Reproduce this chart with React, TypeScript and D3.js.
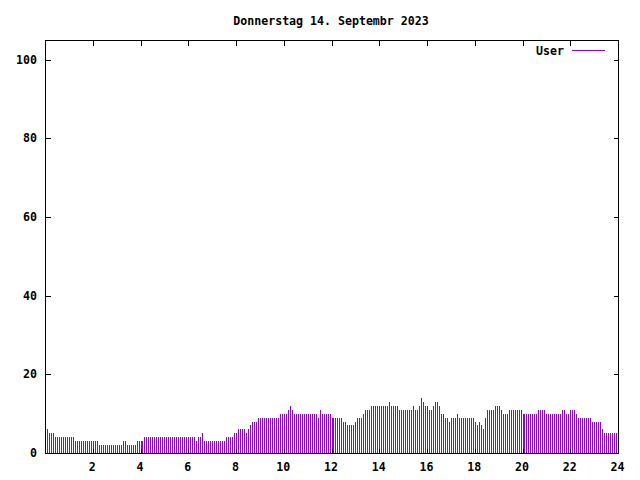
import React from "react";
import * as d3 from "d3";

// 5-minute samples, one array per 4-hour block (48 samples each)
const h00: number[] = [6, 6, 5, 5, 5, 4, 4, 4, 4, 4, 4, 4, 4, 4, 4, 3, 3, 3, 3, 3, 3, 3, 3, 3, 3, 3, 3, 2, 2, 2, 2, 2, 2, 2, 2, 2, 2, 2, 2, 3, 3, 2, 2, 2, 2, 2, 3, 3];
const h04: number[] = [3, 3, 4, 4, 4, 4, 4, 4, 4, 4, 4, 4, 4, 4, 4, 4, 4, 4, 4, 4, 4, 4, 4, 4, 4, 4, 4, 4, 3, 4, 4, 5, 3, 3, 3, 3, 3, 3, 3, 3, 3, 3, 3, 4, 4, 4, 4, 5];
const h08: number[] = [5, 6, 6, 6, 6, 5, 6, 7, 8, 8, 8, 9, 9, 9, 9, 9, 9, 9, 9, 9, 9, 9, 10, 10, 10, 10, 11, 12, 11, 10, 10, 10, 10, 10, 10, 10, 10, 10, 10, 10, 10, 9, 11, 10, 10, 10, 10, 10];
const h12: number[] = [9, 9, 9, 9, 9, 9, 8, 8, 7, 7, 7, 7, 8, 9, 9, 9, 10, 11, 11, 11, 12, 12, 12, 12, 12, 12, 12, 12, 12, 13, 12, 12, 12, 12, 11, 11, 11, 11, 11, 11, 11, 12, 11, 11, 12, 14, 13, 12];
const h16: number[] = [12, 11, 11, 12, 13, 13, 12, 10, 10, 9, 9, 8, 9, 9, 9, 10, 9, 9, 9, 9, 9, 9, 9, 9, 8, 7, 8, 7, 6, 9, 11, 11, 11, 11, 12, 12, 12, 11, 10, 10, 10, 11, 11, 11, 11, 11, 11, 11];
const h20: number[] = [10, 10, 10, 10, 10, 10, 10, 10, 11, 11, 11, 11, 10, 10, 10, 10, 10, 10, 10, 10, 11, 11, 10, 10, 11, 11, 11, 10, 9, 9, 9, 9, 9, 9, 9, 8, 8, 8, 8, 8, 6, 5, 5, 5, 5, 5, 5, 5];

const userValues: number[] = [...h00, ...h04, ...h08, ...h12, ...h16, ...h20];
const sampleMinutes = 5;

const xTicks: number[] = [2, 4, 6, 8, 10, 12, 14, 16, 18, 20, 22, 24];
const yTicks: number[] = [0, 20, 40, 60, 80, 100];

const title = "Donnerstag 14. Septembr 2023";
const seriesName = "User";
const seriesColor = "#9400d3";

const W = 640;
const H = 480;
const L = 45.5;
const R = 618.5;
const T = 40.5;
const B = 453.5;
const font = "'DejaVu Sans Mono', 'Liberation Mono', monospace";

export default function App() {
  const x = d3.scaleLinear().domain([0, 24]).range([L, R]);
  const y = d3.scaleLinear().domain([0, 105]).range([B - 0.5, T - 0.5]);
  const data = userValues.map((v, i) => ({ t: (i * sampleMinutes) / 60, v }));
  const tick = 5;
  return (
    <svg
      width={W}
      height={H}
      style={{ position: "absolute", left: 0, top: 0, background: "#fff" }}
      fontFamily={font}
      fontSize={11.6}
      fontWeight="bold"
    >
      <rect x={0} y={0} width={W} height={H} fill="#fff" />
      <g shapeRendering="crispEdges">
        {data.map((d, i) => {
          const px = Math.floor(x(d.t) + 1e-6);
          const top = Math.round(y(d.v));
          return (
            <rect key={i} x={px} y={top} width={1} height={B - 0.5 - top} fill={seriesColor} />
          );
        })}
      </g>
      <g stroke="#000" strokeWidth={1} shapeRendering="crispEdges" fill="none">
        <rect x={L} y={T} width={R - L} height={B - T} />
        {yTicks.map((v) => {
          const yy = Math.round(y(v)) + 0.5;
          return (
            <g key={v}>
              <line x1={L} x2={L + tick} y1={yy} y2={yy} />
              <line x1={R - tick} x2={R} y1={yy} y2={yy} />
            </g>
          );
        })}
        {xTicks.map((v) => {
          const xx = Math.floor(x(v) + 1e-6) + 0.5;
          return (
            <g key={v}>
              <line x1={xx} x2={xx} y1={B} y2={B - tick} />
              <line x1={xx} x2={xx} y1={T} y2={T + tick} />
            </g>
          );
        })}
      </g>
      <g fill="#000">
        {yTicks.map((v) => (
          <text key={v} x={37} y={y(v) + 4} textAnchor="end">
            {v}
          </text>
        ))}
        {xTicks.map((v) => (
          <text key={v} x={x(v) - 1} y={471} textAnchor="middle">
            {v}
          </text>
        ))}
        <text x={331} y={25} textAnchor="middle">
          {title}
        </text>
        <text x={564} y={55} textAnchor="end">
          {seriesName}
        </text>
      </g>
      <line x1={572} x2={605} y1={50.5} y2={50.5} stroke={seriesColor} strokeWidth={1} shapeRendering="crispEdges" />
    </svg>
  );
}
